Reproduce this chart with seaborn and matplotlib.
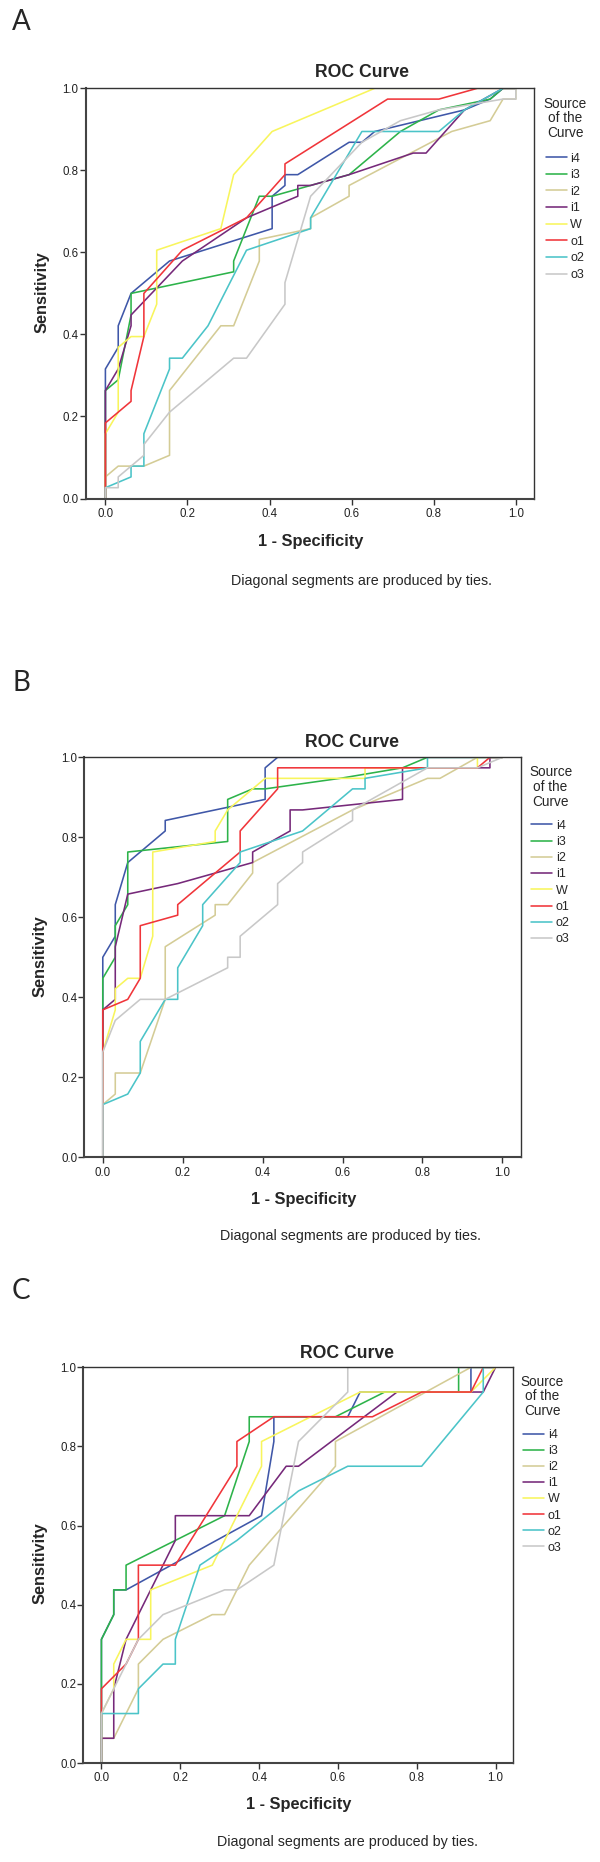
import matplotlib
matplotlib.use("Agg")
import numpy as np
import pandas as pd
import matplotlib.pyplot as plt
import seaborn as sns
from matplotlib.lines import Line2D

# ---------------- data (ROC step counts) ----------------
SERIES = ["i4", "i3", "i2", "i1", "W", "o1", "o2", "o3"]
COLORS = ["#3F57A8", "#2DB34A", "#D4CC96", "#76297A", "#F8F55C", "#F0353A", "#4BC4C8", "#C8C8C8"]
X_TICKS = [0.0, 0.2, 0.4, 0.6, 0.8, 1.0]
Y_TICKS = [0.0, 0.2, 0.4, 0.6, 0.8, 1.0]

N_NEG = 32          # negatives (x step = 1/32)
N_POS_A = 38        # positives panel A
N_POS_B = 38        # positives panel B
N_POS_C = 16        # positives panel C

# Panel A: false-positive counts / true-positive counts
A_i4_fp = [0, 0, 1, 1, 2, 5, 13, 13, 14, 14, 15, 19, 20, 21, 28, 30, 31, 32]
A_i4_tp = [0, 12, 14, 16, 19, 22, 25, 28, 29, 30, 30, 33, 33, 34, 36, 37, 38, 38]
A_i3_fp = [0, 0, 1, 2, 2, 10, 10, 12, 13, 19, 23, 26, 30, 31, 32]
A_i3_tp = [0, 10, 11, 17, 19, 21, 22, 28, 28, 30, 34, 36, 37, 38, 38]
A_i2_fp = [0, 0, 1, 3, 5, 5, 9, 10, 12, 12, 16, 16, 19, 19, 27, 30, 31, 32, 32]
A_i2_tp = [0, 2, 3, 3, 4, 10, 16, 16, 22, 24, 25, 26, 28, 29, 34, 35, 37, 37, 38]
A_i1_fp = [0, 0, 1, 2, 2, 6, 11, 13, 15, 15, 16, 19, 24, 25, 28, 31, 32]
A_i1_tp = [0, 10, 12, 16, 17, 22, 26, 27, 28, 29, 29, 30, 32, 32, 36, 38, 38]
A_W_fp = [0, 0, 1, 1, 2, 3, 4, 4, 9, 10, 13, 21, 32]
A_W_tp = [0, 6, 8, 14, 15, 15, 18, 23, 25, 30, 34, 38, 38]
A_o1_fp = [0, 0, 2, 2, 3, 3, 6, 11, 14, 14, 22, 26, 29, 32]
A_o1_tp = [0, 7, 9, 10, 15, 19, 23, 26, 30, 31, 37, 37, 38, 38]
A_o2_fp = [0, 0, 2, 2, 3, 3, 5, 5, 6, 8, 11, 16, 16, 20, 26, 28, 31, 32]
A_o2_tp = [0, 1, 2, 3, 3, 6, 12, 13, 13, 16, 23, 25, 26, 34, 34, 36, 38, 38]
A_o3_fp = [0, 0, 1, 1, 3, 3, 5, 10, 11, 14, 14, 16, 20, 23, 26, 31, 32, 32]
A_o3_tp = [0, 1, 1, 2, 4, 5, 8, 13, 13, 18, 20, 28, 33, 35, 36, 37, 37, 38]

# Panel B
B_i4_fp = [0, 0, 1, 1, 2, 5, 5, 13, 13, 14, 32]
B_i4_tp = [0, 19, 21, 24, 28, 31, 32, 34, 37, 38, 38]
B_i3_fp = [0, 0, 1, 1, 2, 2, 10, 10, 12, 13, 19, 24, 26, 32]
B_i3_tp = [0, 17, 19, 22, 24, 29, 30, 34, 35, 35, 36, 37, 38, 38]
B_i2_fp = [0, 0, 1, 1, 3, 5, 5, 9, 9, 10, 12, 12, 20, 26, 27, 30, 32]
B_i2_tp = [0, 5, 6, 8, 8, 15, 20, 23, 24, 24, 27, 28, 33, 36, 36, 38, 38]
B_i1_fp = [0, 0, 1, 1, 2, 6, 12, 12, 15, 15, 16, 24, 24, 31, 31, 32]
B_i1_tp = [0, 14, 15, 20, 25, 26, 28, 29, 31, 33, 33, 34, 37, 37, 38, 38]
B_W_fp = [0, 0, 1, 1, 2, 3, 4, 4, 9, 9, 10, 13, 21, 21, 30, 30, 32]
B_W_tp = [0, 10, 14, 16, 17, 17, 21, 29, 30, 31, 33, 36, 36, 37, 37, 38, 38]
B_o1_fp = [0, 0, 2, 3, 3, 6, 6, 11, 11, 14, 14, 30, 31, 32]
B_o1_tp = [0, 14, 15, 17, 22, 23, 24, 29, 31, 35, 37, 37, 38, 38]
B_o2_fp = [0, 0, 2, 3, 3, 5, 6, 6, 8, 8, 11, 11, 16, 20, 21, 21, 26, 26, 32]
B_o2_tp = [0, 5, 6, 8, 11, 15, 15, 18, 22, 24, 28, 29, 31, 35, 35, 36, 37, 38, 38]
B_o3_fp = [0, 0, 1, 3, 5, 10, 10, 11, 11, 14, 14, 16, 16, 20, 20, 26, 30, 32]
B_o3_tp = [0, 10, 13, 15, 15, 18, 19, 19, 21, 24, 26, 28, 29, 32, 33, 37, 37, 38]

# Panel C
C_i4_fp = [0, 0, 1, 1, 2, 13, 14, 14, 20, 21, 30, 30, 32]
C_i4_tp = [0, 5, 6, 7, 7, 10, 13, 14, 14, 15, 15, 16, 16]
C_i3_fp = [0, 0, 1, 1, 2, 2, 10, 12, 12, 19, 23, 29, 29, 32]
C_i3_tp = [0, 5, 6, 7, 7, 8, 10, 13, 14, 14, 15, 15, 16, 16]
C_i2_fp = [0, 0, 1, 3, 3, 5, 9, 10, 12, 19, 19, 30, 32]
C_i2_tp = [0, 1, 1, 3, 4, 5, 6, 6, 8, 12, 13, 16, 16]
C_i1_fp = [0, 0, 1, 1, 2, 6, 6, 12, 15, 16, 24, 31, 32]
C_i1_tp = [0, 1, 1, 3, 5, 9, 10, 10, 12, 12, 15, 15, 16]
C_W_fp = [0, 0, 1, 1, 2, 4, 4, 9, 13, 13, 21, 30, 32]
C_W_tp = [0, 2, 3, 4, 5, 5, 7, 8, 12, 13, 15, 15, 16]
C_o1_fp = [0, 0, 2, 3, 3, 6, 11, 11, 14, 22, 26, 30, 31, 32]
C_o1_tp = [0, 3, 4, 5, 8, 8, 12, 13, 14, 14, 15, 15, 16, 16]
C_o2_fp = [0, 0, 3, 3, 5, 6, 6, 8, 11, 16, 20, 26, 31, 31, 32]
C_o2_tp = [0, 2, 2, 3, 4, 4, 5, 8, 9, 11, 12, 12, 15, 16, 16]
C_o3_fp = [0, 0, 3, 5, 10, 11, 14, 16, 20, 20, 32]
C_o3_tp = [0, 2, 5, 6, 7, 7, 8, 13, 15, 16, 16]


def build_frame(fp_lists, tp_lists, n_pos):
    rows = []
    for name, fp, tp in zip(SERIES, fp_lists, tp_lists):
        for f, t in zip(fp, tp):
            rows.append({"series": name, "fpr": f / N_NEG, "tpr": t / n_pos})
    return pd.DataFrame(rows)


DF_A = build_frame([A_i4_fp, A_i3_fp, A_i2_fp, A_i1_fp, A_W_fp, A_o1_fp, A_o2_fp, A_o3_fp],
                   [A_i4_tp, A_i3_tp, A_i2_tp, A_i1_tp, A_W_tp, A_o1_tp, A_o2_tp, A_o3_tp], N_POS_A)
DF_B = build_frame([B_i4_fp, B_i3_fp, B_i2_fp, B_i1_fp, B_W_fp, B_o1_fp, B_o2_fp, B_o3_fp],
                   [B_i4_tp, B_i3_tp, B_i2_tp, B_i1_tp, B_W_tp, B_o1_tp, B_o2_tp, B_o3_tp], N_POS_B)
DF_C = build_frame([C_i4_fp, C_i3_fp, C_i2_fp, C_i1_fp, C_W_fp, C_o1_fp, C_o2_fp, C_o3_fp],
                   [C_i4_tp, C_i3_tp, C_i2_tp, C_i1_tp, C_W_tp, C_o1_tp, C_o2_tp, C_o3_tp], N_POS_C)

# ---------------- styling / layout ----------------
sns.set_style("white")
plt.rcParams["font.family"] = ["Liberation Sans", "DejaVu Sans"]

W, H = 600, 1862
fig = plt.figure(figsize=(W / 100, H / 100), dpi=100)
fig.patch.set_facecolor("white")


def fx(px):
    return px / W


def fy(py):
    return 1 - py / H


PANELS = [
    dict(df=DF_A, letter="A", letter_xy=(21.6, 21.5), frame=(85.7, 88.3, 534.3, 498.5),
         xlim=(-0.048, 1.045), title_xy=(361.7, 72.9), foot_xy=(361.7, 580.7),
         xlab=(0.502, -0.106), ylab=(-0.0976, 0.503),
         legtitle=(565.0, 118.3), leg=(565.0, 152.6), lspace=0.37),
    dict(df=DF_B, letter="B", letter_xy=(21.3, 683.0), frame=(84.4, 757.3, 520.8, 1157.2),
         xlim=(-0.046, 1.046), title_xy=(351.9, 742.3), foot_xy=(350.0, 1236.3),
         xlab=(0.502, -0.106), ylab=(-0.1008, 0.504),
         legtitle=(550.6, 787.0), leg=(550.6, 819.7), lspace=0.34),
    dict(df=DF_C, letter="C", letter_xy=(21.4, 1291.0), frame=(83.3, 1367.3, 513.3, 1763.0),
         xlim=(-0.046, 1.045), title_xy=(347.4, 1353.0), foot_xy=(347.2, 1842.0),
         xlab=(0.502, -0.105), ylab=(-0.0995, 0.504),
         legtitle=(542.4, 1396.5), leg=(542.4, 1428.9), lspace=0.33),
]

for p in PANELS:
    l, t, r, b = p["frame"]
    ax = fig.add_axes([fx(l), fy(b), (r - l) / W, (b - t) / H])
    sns.lineplot(data=p["df"], x="fpr", y="tpr", hue="series", hue_order=SERIES,
                 palette=COLORS, sort=False, estimator=None, linewidth=1.15,
                 legend=False, ax=ax)
    ax.set_xlim(*p["xlim"])
    ax.set_ylim(0, 1)
    ax.set_xticks(X_TICKS)
    ax.set_xticklabels([f"{v:.1f}" for v in X_TICKS])
    ax.set_yticks(Y_TICKS)
    ax.set_yticklabels([f"{v:.1f}" for v in Y_TICKS])
    ax.tick_params(axis="both", which="major", direction="out", length=4.3, width=1.0,
                   color="#333333", labelsize=8.3, labelcolor="#222222", bottom=True, left=True)
    ax.tick_params(axis="y", pad=0.8)
    ax.tick_params(axis="x", pad=2.5)
    for side in ["left", "bottom"]:
        ax.spines[side].set_linewidth(1.5)
        ax.spines[side].set_color("#444444")
    for side in ["top", "right"]:
        ax.spines[side].set_linewidth(1.0)
        ax.spines[side].set_color("#333333")
    ax.set_xlabel("1 - Specificity", fontsize=11.8, fontweight="bold", va="center")
    ax.set_ylabel("Sensitivity", fontsize=11.8, fontweight="bold", va="center")
    ax.xaxis.set_label_coords(*p["xlab"])
    ax.yaxis.set_label_coords(*p["ylab"])

    fig.text(fx(p["title_xy"][0]), fy(p["title_xy"][1]), "ROC Curve", ha="center",
             va="center", fontsize=12.7, fontweight="bold")
    fig.text(fx(p["foot_xy"][0]), fy(p["foot_xy"][1]),
             "Diagonal segments are produced by ties.", ha="center", va="center",
             fontsize=10.3)
    fig.text(fx(p["letter_xy"][0]), fy(p["letter_xy"][1]), p["letter"], ha="center",
             va="center", fontsize=20, family=["Lato", "DejaVu Sans"])

    # legend title (SPSS style, three centred lines) and legend entries
    fig.text(fx(p["legtitle"][0]), fy(p["legtitle"][1]), "Source\nof the\nCurve",
             ha="center", va="center", multialignment="center", fontsize=9.8,
             linespacing=1.05)
    handles = [Line2D([0], [0], color=c, lw=1.15) for c in COLORS]
    ax.legend(handles, SERIES, loc="upper center",
              bbox_to_anchor=(fx(p["leg"][0]), fy(p["leg"][1])),
              bbox_transform=fig.transFigure, frameon=False, fontsize=9,
              handlelength=1.65, handletextpad=0.3,
              labelspacing=p["lspace"], borderpad=0, borderaxespad=0)

fig.savefig("out.png", dpi=100, facecolor="white")
